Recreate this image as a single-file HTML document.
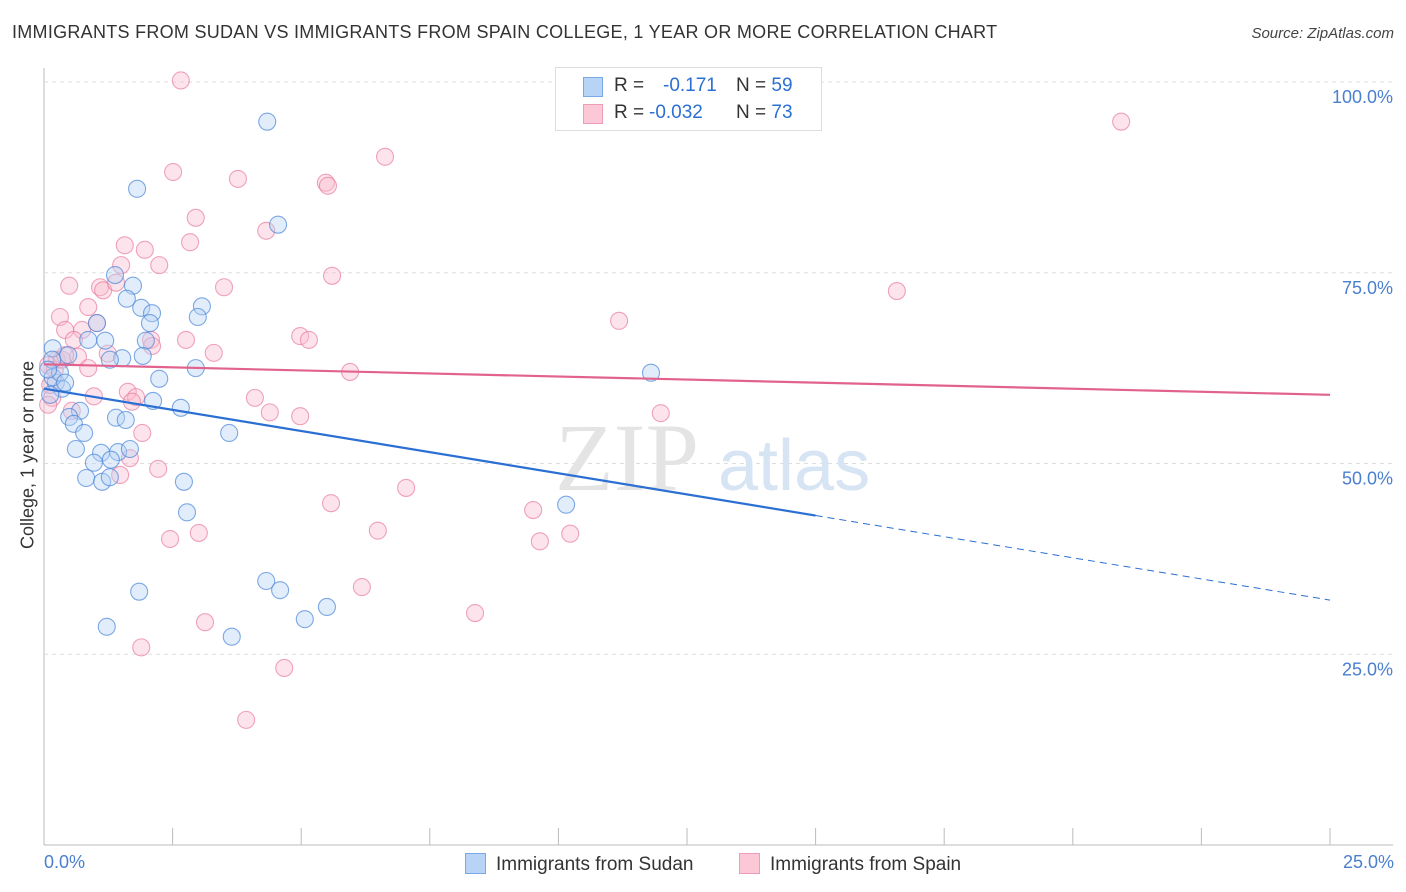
<!DOCTYPE html>
<html><head><meta charset="utf-8"><style>
body{margin:0;background:#fff;font-family:"Liberation Sans",sans-serif;}
#wrap{position:relative;width:1406px;height:892px;overflow:hidden;}
.t{position:absolute;white-space:nowrap;}
</style></head><body>
<div id="wrap">
<div class="t" style="left:12px;top:22px;font-size:18px;color:#333;letter-spacing:0.28px;">IMMIGRANTS FROM SUDAN VS IMMIGRANTS FROM SPAIN COLLEGE, 1 YEAR OR MORE CORRELATION CHART</div>
<div class="t" style="right:12px;top:25px;font-size:15px;color:#444;font-style:italic;">Source: ZipAtlas.com</div>
<svg id="plot" width="1406" height="892" style="position:absolute;left:0;top:0"></svg>
</div>
<script>
const yTicks=[25,50,75,100];
const yTickLabels=["25.0%","50.0%","75.0%","100.0%"];
const sudanX=[4.34,4.55,1.81,1.38,1.73,1.61,1.89,2.10,2.06,3.07,2.99,1.03,1.19,0.86,1.98,1.92,1.52,0.47,0.17,0.23,0.35,2.95,2.24,2.12,2.66,0.70,0.49,0.58,0.78,1.40,1.59,3.60,0.62,1.11,0.97,1.44,1.67,1.30,0.82,1.13,1.28,2.72,2.78,1.85,1.22,3.65,4.32,4.59,5.07,5.50,11.80,10.15,0.17,0.31,0.12,0.16,0.08,0.41,1.28];
const sudanY=[94.8,81.3,86.0,74.7,73.3,71.6,70.4,69.7,68.4,70.6,69.2,68.4,66.1,66.2,66.1,64.1,63.8,64.2,65.1,60.6,59.8,62.5,61.1,58.2,57.3,56.9,56.1,55.2,54.0,56.0,55.7,54.0,51.9,51.4,50.1,51.5,51.9,50.5,48.1,47.6,48.2,47.6,43.6,33.2,28.6,27.3,34.6,33.4,29.6,31.2,61.9,44.6,61.3,61.9,59.0,63.6,62.3,60.6,63.6];
const spainX=[2.66,20.94,6.63,3.77,5.48,5.52,2.51,2.95,4.32,2.84,1.57,1.96,2.24,1.50,5.60,0.49,1.09,1.15,3.50,1.40,0.86,0.31,16.58,11.18,1.03,0.41,0.74,0.58,2.76,4.98,5.15,2.08,2.10,3.30,1.24,0.66,0.86,0.25,0.08,5.95,1.63,1.79,0.97,1.71,4.10,4.39,4.98,11.99,1.91,0.54,1.67,2.22,1.48,7.04,5.58,9.51,6.49,10.23,9.64,2.45,3.01,6.18,8.38,3.13,1.89,4.67,3.93,0.16,0.12,0.21,0.35,0.08,0.41];
const spainY=[100.2,94.8,90.2,87.3,86.8,86.4,88.2,82.2,80.5,79.0,78.6,78.0,76.0,76.0,74.6,73.3,73.1,72.7,73.1,73.7,70.5,69.2,72.6,68.7,68.4,67.5,67.5,66.2,66.2,66.7,66.2,66.2,65.4,64.5,64.4,64.0,62.5,63.6,62.9,62.0,59.4,58.7,58.8,58.1,58.6,56.7,56.2,56.6,54.0,56.9,50.7,49.3,48.5,46.8,44.8,43.9,41.2,40.8,39.8,40.1,40.9,33.8,30.4,29.2,25.9,23.2,16.4,58.6,60.3,62.3,63.6,57.7,64.2];
const sudanTrend=[59.8,-1.108];
const spainTrend=[63.0,-0.16];
const X0=44,X1=1330,Y0=845,Y100=82;
const sx=v=>X0+(X1-X0)*v/25, sy=v=>Y0-(Y0-Y100)*v/100;
const svg=document.getElementById('plot'),NS='http://www.w3.org/2000/svg';
function mk(t,a,p){const e=document.createElementNS(NS,t);for(const k in a)e.setAttribute(k,a[k]);(p||svg).appendChild(e);return e;}
let ax=mk('line',{x1:X0,y1:68,x2:X0,y2:Y0,stroke:'#bbb','stroke-width':1});

let bx=mk('line',{x1:X0,y1:Y0,x2:1393,y2:Y0,stroke:'#bbb','stroke-width':1});

for(let i=0;i<=10;i++){const l=mk('line',{x1:sx(i*2.5),y1:828,x2:sx(i*2.5),y2:Y0,stroke:'#bbb'});
}
yTicks.forEach((v,i)=>{const g=mk('line',{x1:X0,y1:sy(v),x2:1393,y2:sy(v),stroke:'#ddd','stroke-dasharray':'4,4'});

const t=mk('text',{x:1393,y:sy(v)+21,'text-anchor':'end','font-size':18,fill:'#4a7fd0','font-family':'Liberation Sans'});
t.textContent=yTickLabels[i];});
let wm=mk('text',{x:555,y:490,'font-size':96,fill:'#e4e4e4','font-family':'Liberation Serif'});wm.textContent='ZIP';

let wm2=mk('text',{x:718,y:490,'font-size':72,fill:'#d6e4f3','font-family':'Liberation Sans'});wm2.textContent='atlas';

function pts(xs,ys,fill,stroke,name){xs.forEach((x,i)=>{const c=mk('circle',{cx:sx(x),cy:sy(ys[i]),r:8.5,fill:fill,'fill-opacity':0.4,stroke:stroke,'stroke-width':1.1,'stroke-opacity':0.7});
});}
pts(spainX,spainY,'#f9bcd0','#e87ea0','spain-point');
pts(sudanX,sudanY,'#b7d3f5','#4a86d8','sudan-point');
let t1=mk('line',{x1:sx(0),y1:sy(sudanTrend[0]),x2:sx(15),y2:sy(sudanTrend[0]+sudanTrend[1]*15),stroke:'#2b6fd3','stroke-width':2.2});

let t2=mk('line',{x1:sx(15),y1:sy(sudanTrend[0]+sudanTrend[1]*15),x2:sx(25),y2:sy(sudanTrend[0]+sudanTrend[1]*25),stroke:'#2b6fd3','stroke-width':1,'stroke-dasharray':'7,5'});

let t3=mk('line',{x1:sx(0),y1:sy(spainTrend[0]),x2:sx(25),y2:sy(spainTrend[0]+spainTrend[1]*25),stroke:'#e2628e','stroke-width':2.2});

</script>
<div class="t" style="left:28px;top:455px;font-size:18px;color:#333;transform:translate(-50%,-50%) rotate(-90deg);">College, 1 year or more</div>
<div class="t" style="left:44px;top:852px;font-size:18px;color:#4a7fd0;">0.0%</div>
<div class="t" style="right:12px;top:852px;font-size:18px;color:#4a7fd0;">25.0%</div>
<div style="position:absolute;left:555px;top:67px;width:265px;height:62px;border:1px solid #ddd;background:#fff;font-size:19px;">
<div style="position:absolute;left:27px;top:9px;width:18px;height:18px;background:#b7d3f5;border:1px solid #7aa8e6"></div>
<div class="t" style="left:58px;top:7px;color:#333">R =</div>
<div class="t" style="left:107px;top:7px;color:#2b6fd3">-0.171</div>
<div class="t" style="left:180px;top:7px;color:#333">N = <span style="color:#2b6fd3">59</span></div>
<div style="position:absolute;left:27px;top:36px;width:18px;height:18px;background:#fcc8d7;border:1px solid #ef9db7"></div>
<div class="t" style="left:58px;top:34px;color:#333">R =</div>
<div class="t" style="left:93px;top:34px;color:#2b6fd3">-0.032</div>
<div class="t" style="left:180px;top:34px;color:#333">N = <span style="color:#2b6fd3">73</span></div>
</div>
<div style="position:absolute;left:465px;top:853px;font-size:19px;color:#333;">
<span style="display:inline-block;width:19px;height:19px;background:#b7d3f5;border:1px solid #7aa8e6;vertical-align:-4px;margin-right:10px"></span>Immigrants from Sudan</div>
<div style="position:absolute;left:739px;top:853px;font-size:19px;color:#333;">
<span style="display:inline-block;width:19px;height:19px;background:#fcc8d7;border:1px solid #ef9db7;vertical-align:-4px;margin-right:10px"></span>Immigrants from Spain</div>
</body></html>
